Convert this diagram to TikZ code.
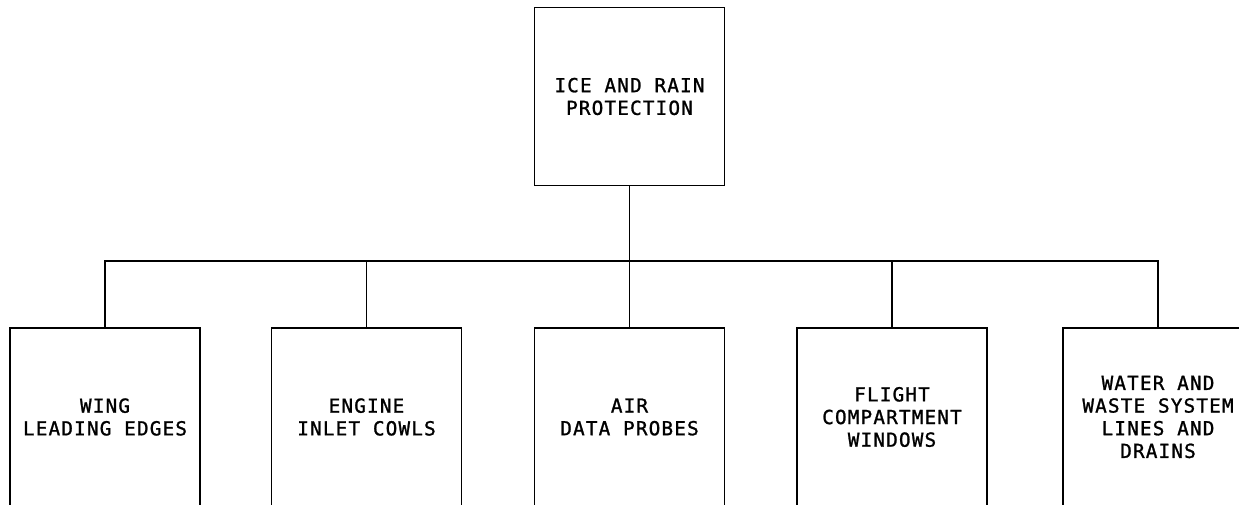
\documentclass[tikz,border=0pt]{standalone}
\usepackage{fontspec}
\newfontfamily\plotfont[LetterSpace=6,FakeBold=1.2]{DejaVu Sans Mono}
\usetikzlibrary{positioning}

\tikzset{
    sysbox/.style={draw, line width=1.1pt, minimum width=3.8cm, minimum height=3.56cm,
        align=center, inner sep=0pt, font=\plotfont\fontsize{11}{12.9}\selectfont},
    link/.style={line width=0.8pt}
}

\begin{document}
\begin{tikzpicture}[x=0.02cm, y=-0.02cm]
    \useasboundingbox (0,0) rectangle (1239,504);
    % top of the tree
    \node[sysbox] (ice) at (629.5,96.5) {ICE AND RAIN\\PROTECTION};
    % the five sub-systems
    \node[sysbox] (wing) at (105,417) {WING\\LEADING EDGES};
    \node[sysbox] (engine) at (366.5,417) {ENGINE\\INLET COWLS};
    \node[sysbox] (air) at (629.5,417) {AIR\\DATA PROBES};
    \node[sysbox] (flight) at (892,417) {FLIGHT\\COMPARTMENT\\WINDOWS};
    \node[sysbox] (water) at (1158,417) {WATER AND\\WASTE SYSTEM\\LINES AND\\DRAINS};
    \coordinate (bus) at (629.5,261);
    % connectors
    \draw[link] (ice.south) -- (air.north);
    \draw[link] (wing.north) |- (bus) -| (water.north);
    \draw[link] (engine.north) -- (engine.north |- bus);
    \draw[link] (flight.north) -- (flight.north |- bus);
\end{tikzpicture}
\end{document}
